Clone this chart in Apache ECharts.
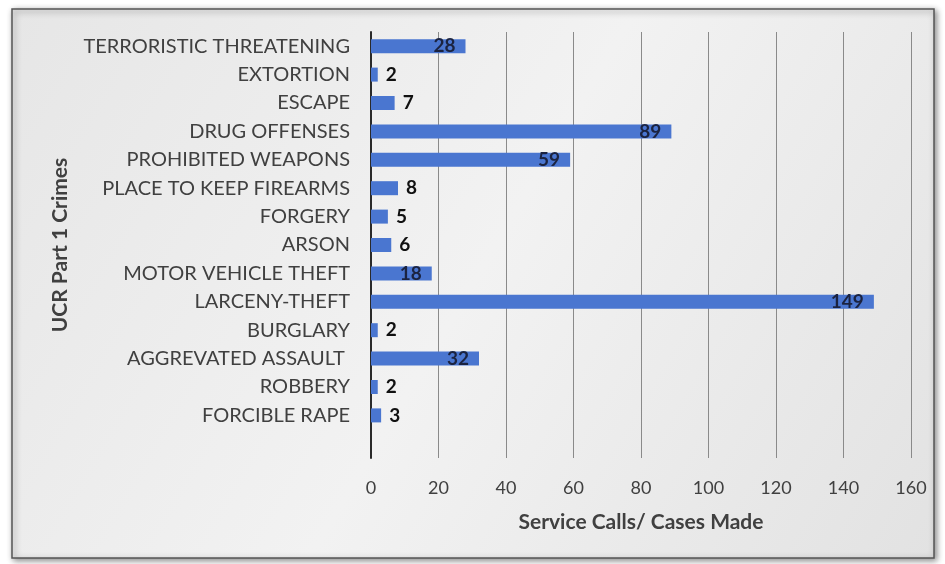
<!DOCTYPE html>
<html><head><meta charset="utf-8">
<script src="https://cdn.jsdelivr.net/npm/echarts@6/dist/echarts.min.js"></script>
<style>html,body{margin:0;padding:0;background:#fff}#c{width:945px;height:564px}</style>
</head><body><div id="c"></div>
<script>
const categories = ['', 'FORCIBLE RAPE', 'ROBBERY', 'AGGREVATED ASSAULT ', 'BURGLARY', 'LARCENY-THEFT', 'MOTOR VEHICLE THEFT', 'ARSON', 'FORGERY', 'PLACE TO KEEP FIREARMS', 'PROHIBITED WEAPONS', 'DRUG OFFENSES', 'ESCAPE', 'EXTORTION', 'TERRORISTIC THREATENING'];
const values = [null, 3, 2, 32, 2, 149, 18, 6, 5, 8, 59, 89, 7, 2, 28];
const xTicks = [0, 20, 40, 60, 80, 100, 120, 140, 160];
const xAxisTitle = 'Service Calls/ Cases Made';
const yAxisTitle = 'UCR Part 1 Crimes';

const FONT = 'Lato, "Open Sans", sans-serif';
const chart = echarts.init(document.getElementById('c'));
chart.setOption({
  animation: false,
  backgroundColor: '#ffffff',
  graphic: [{
    type: 'rect', z: -10,
    shape: {x: 12, y: 9, width: 922, height: 549},
    style: {
      fill: new echarts.graphic.LinearGradient(0, 0, 1, 1, [
        {offset: 0, color: '#e6e6e6'}, {offset: 0.5, color: '#f2f2f2'}, {offset: 1, color: '#e2e2e2'}]),
      stroke: '#555', lineWidth: 1.5,
      shadowBlur: 6, shadowColor: 'rgba(0,0,0,0.45)', shadowOffsetX: 2, shadowOffsetY: 2
    }
  }],
  grid: {left: 371, right: 34, top: 32, bottom: 106, containLabel: false},
  xAxis: {
    type: 'value', min: 0, max: 160, interval: 20,
    name: xAxisTitle, nameLocation: 'middle', nameGap: 54,
    nameTextStyle: {fontFamily: FONT, fontSize: 21, fontWeight: 'bold', color: '#404040'},
    axisLine: {show: false}, axisTick: {show: false},
    axisLabel: {fontFamily: FONT, fontSize: 18, color: '#404040', margin: 21,
      formatter: v => xTicks.includes(v) ? String(v) : ''},
    splitLine: {show: true, lineStyle: {color: '#8a8a8a', width: 1}}
  },
  yAxis: {
    type: 'category', data: categories,
    name: yAxisTitle, nameLocation: 'middle', nameGap: 300, nameRotate: 90,
    nameTextStyle: {fontFamily: FONT, fontSize: 21, fontWeight: 'bold', color: '#404040'},
    axisLine: {show: true, lineStyle: {color: '#2a2a2a', width: 2}},
    axisTick: {show: false},
    axisLabel: {fontFamily: FONT, fontSize: 20, color: '#404040', margin: 21},
    splitLine: {show: false}
  },
  series: [{
    type: 'bar', barWidth: 14,
    data: values.map(v => v == null ? null : (v >= 18
      ? {value: v, label: {position: 'insideRight', distance: 10, color: '#1b2340'}}
      : v)),
    itemStyle: {color: '#4a76d0'},
    label: {
      show: true, fontFamily: FONT, fontSize: 19, fontWeight: 'bold',
      position: 'right', distance: 8, color: '#111',
      formatter: p => p.value == null ? '' : String(p.value)
    }
  }]
});
</script></body></html>
